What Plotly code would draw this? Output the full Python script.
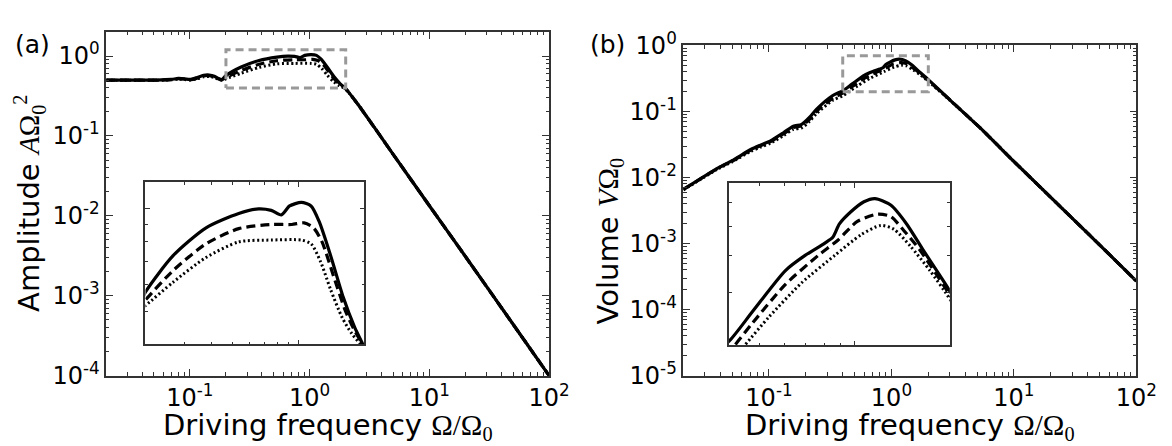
import math
import plotly.graph_objects as go

W, H = 1172, 446

# ---------------- data: panel (a) amplitude ----------------
amp_solid_x = [0.02, 0.03, 0.04, 0.05, 0.06, 0.07, 0.08, 0.09, 0.1, 0.115, 0.13, 0.145, 0.16, 0.175,
               0.185, 0.2, 0.268, 0.378, 0.533, 0.656, 0.75, 0.834, 0.91, 1.03, 1.14, 1.24, 1.40,
               1.60, 1.80, 2.0, 2.5, 3.47, 5.0, 10.0, 20.0, 50.0, 100.0]
amp_solid_y = [0.50, 0.50, 0.50, 0.50, 0.505, 0.51, 0.525, 0.52, 0.51, 0.54, 0.575, 0.58, 0.56, 0.52,
               0.51, 0.57, 0.73, 0.88, 0.97, 1.0, 0.99, 0.96, 1.02, 1.045, 1.02, 0.92, 0.73,
               0.55, 0.45, 0.39, 0.255, 0.128, 0.0585, 0.0134, 0.0031, 0.00044, 0.0001]

amp_dash_x = [0.02, 0.03, 0.04, 0.05, 0.06, 0.07, 0.08, 0.09, 0.1, 0.115, 0.13, 0.145, 0.16, 0.175,
              0.185, 0.2, 0.268, 0.378, 0.533, 0.75, 0.93, 1.06, 1.17, 1.28, 1.45, 1.64, 1.80,
              2.0, 2.5, 3.47, 5.0, 10.0, 20.0, 50.0, 100.0]
amp_dash_y = [0.50, 0.50, 0.50, 0.50, 0.503, 0.508, 0.52, 0.515, 0.505, 0.53, 0.565, 0.57, 0.55, 0.515,
              0.505, 0.54, 0.66, 0.79, 0.875, 0.90, 0.90, 0.91, 0.88, 0.80, 0.63, 0.50, 0.44,
              0.39, 0.255, 0.128, 0.0585, 0.0134, 0.0031, 0.00044, 0.0001]

amp_dot_x = [0.02, 0.03, 0.04, 0.05, 0.06, 0.07, 0.08, 0.09, 0.1, 0.115, 0.13, 0.145, 0.16, 0.175,
             0.185, 0.2, 0.268, 0.378, 0.533, 0.75, 1.03, 1.14, 1.26, 1.40, 1.58, 1.75,
             2.0, 2.5, 3.47, 5.0, 10.0, 20.0, 50.0, 100.0]
amp_dot_y = [0.50, 0.50, 0.50, 0.50, 0.50, 0.505, 0.515, 0.51, 0.50, 0.52, 0.55, 0.555, 0.54, 0.51,
             0.50, 0.52, 0.61, 0.72, 0.80, 0.81, 0.81, 0.79, 0.70, 0.58, 0.48, 0.43,
             0.385, 0.255, 0.128, 0.0585, 0.0134, 0.0031, 0.00044, 0.0001]

# ---------------- data: panel (b) volume ----------------
vol_solid_x = [0.02, 0.0385, 0.05, 0.071, 0.085, 0.103, 0.132, 0.158, 0.185, 0.215, 0.244, 0.332,
               0.4, 0.476, 0.604, 0.697, 0.805, 0.853, 0.895, 0.973, 1.07, 1.16, 1.30, 1.46, 1.64,
               1.94, 3.0, 5.3, 10.0, 20.0, 50.0, 100.0]
vol_solid_y = [0.0066, 0.014, 0.018, 0.0266, 0.031, 0.036, 0.048, 0.060, 0.064, 0.082, 0.108, 0.175,
               0.206, 0.26, 0.356, 0.40, 0.44, 0.46, 0.51, 0.56, 0.605, 0.62, 0.59, 0.51, 0.42,
               0.32, 0.15, 0.0565, 0.0175, 0.0050, 0.00096, 0.00027]

vol_dash_x = [0.02, 0.0385, 0.05, 0.071, 0.085, 0.103, 0.132, 0.158, 0.185, 0.215, 0.244, 0.332,
              0.4, 0.476, 0.604, 0.767, 0.885, 1.02, 1.18, 1.30, 1.43, 1.60, 1.94,
              3.0, 5.3, 10.0, 20.0, 50.0, 100.0]
vol_dash_y = [0.0066, 0.0139, 0.0178, 0.026, 0.0302, 0.035, 0.0462, 0.0572, 0.061, 0.077, 0.1005, 0.16,
              0.19, 0.238, 0.32, 0.40, 0.45, 0.52, 0.55, 0.54, 0.485, 0.42, 0.31,
              0.15, 0.0565, 0.0175, 0.0050, 0.00096, 0.00027]

vol_dot_x = [0.02, 0.0385, 0.05, 0.071, 0.085, 0.103, 0.132, 0.158, 0.185, 0.215, 0.244, 0.332,
             0.4, 0.449, 0.536, 0.68, 0.865, 1.05, 1.21, 1.33, 1.50, 1.73, 1.94,
             3.0, 5.3, 10.0, 20.0, 50.0, 100.0]
vol_dot_y = [0.0065, 0.0136, 0.0173, 0.025, 0.0288, 0.0332, 0.0435, 0.0535, 0.0565, 0.0715, 0.093, 0.148,
             0.173, 0.20, 0.249, 0.324, 0.40, 0.47, 0.504, 0.49, 0.43, 0.356, 0.30,
             0.148, 0.0565, 0.0175, 0.0050, 0.00096, 0.00027]

# axis ranges (data units) and tick labels
main_x_range = [0.02, 100.0]
amp_y_range = [1e-4, 2.0]
vol_y_range = [1e-5, 1.0]
inset_a_x = [0.2, 2.0]
inset_a_y = [0.4, 1.2]
inset_b_x = [0.4, 2.0]
inset_b_y = [0.2, 0.7]

x_major = [0.1, 1, 10, 100]
x_major_text = ["10<sup>-1</sup>", "10<sup>0</sup>", "10<sup>1</sup>", "10<sup>2</sup>"]
amp_major = [1e-4, 1e-3, 1e-2, 1e-1, 1]
amp_major_text = ["10<sup>-4</sup>", "10<sup>-3</sup>", "10<sup>-2</sup>", "10<sup>-1</sup>", "10<sup>0</sup>"]
vol_major = [1e-5, 1e-4, 1e-3, 1e-2, 1e-1, 1]
vol_major_text = ["10<sup>-5</sup>", "10<sup>-4</sup>", "10<sup>-3</sup>", "10<sup>-2</sup>",
                  "10<sup>-1</sup>", "10<sup>0</sup>"]


def minor_vals(lo, hi):
    out = []
    e0 = math.floor(math.log10(lo)) - 1
    e1 = math.ceil(math.log10(hi)) + 1
    for e in range(e0, e1):
        for m in range(2, 10):
            v = m * 10 ** e
            if lo * 0.999 <= v <= hi * 1.001:
                out.append(v)
    return out


def lr(r):
    return [math.log10(r[0]), math.log10(r[1])]


def px_x(p):
    return p / W


def px_y(p):
    return 1 - p / H


FRAME = "#333333"
FONT = "DejaVu Sans"

fig = go.Figure()

styles = [("solid", 3.2), ("9px,5px", 3.2), ("2px,2.6px", 3.0)]


def add_series(xs_list, ys_list, xa, ya):
    for (xs, ys), (dash, w) in zip(zip(xs_list, ys_list), styles):
        fig.add_trace(go.Scatter(x=xs, y=ys, mode="lines", xaxis=xa, yaxis=ya,
                                 line=dict(color="black", width=w, dash=dash,
                                           shape="spline", smoothing=0.7),
                                 showlegend=False, hoverinfo="skip"))


amp_x = [amp_solid_x, amp_dash_x, amp_dot_x]
amp_y = [amp_solid_y, amp_dash_y, amp_dot_y]
vol_x = [vol_solid_x, vol_dash_x, vol_dot_x]
vol_y = [vol_solid_y, vol_dash_y, vol_dot_y]

# main panels
add_series(amp_x, amp_y, "x", "y")
add_series(vol_x, vol_y, "x2", "y2")


def add_box(xr, yr, xa, ya):
    fig.add_trace(go.Scatter(x=[xr[0], xr[1], xr[1], xr[0], xr[0]],
                             y=[yr[0], yr[0], yr[1], yr[1], yr[0]],
                             mode="lines", xaxis=xa, yaxis=ya,
                             line=dict(color="#999999", width=3, dash="8px,5px"),
                             showlegend=False, hoverinfo="skip"))


add_box(inset_a_x, inset_a_y, "x", "y")
add_box(inset_b_x, inset_b_y, "x2", "y2")

# insets
add_series(amp_x, amp_y, "x3", "y3")
add_series(vol_x, vol_y, "x4", "y4")


def main_axis(dom, rng, tv, tt, anchor):
    return dict(type="log", domain=dom, range=lr(rng), anchor=anchor,
                tickmode="array", tickvals=tv, ticktext=tt,
                ticks="inside", ticklen=7, tickwidth=1.2, tickcolor=FRAME,
                minor=dict(tickmode="array", tickvals=minor_vals(*rng), ticks="inside",
                           ticklen=3.5, tickwidth=1, tickcolor=FRAME, showgrid=False),
                showline=True, linecolor=FRAME, linewidth=1.5, mirror="allticks",
                showgrid=False, zeroline=False,
                tickfont=dict(family=FONT, size=24, color="black"))


def inset_axis(dom, rng, anchor):
    majors = [v for v in [0.1, 1, 10] if rng[0] < v < rng[1]]
    return dict(type="log", domain=dom, range=lr(rng), anchor=anchor,
                tickmode="array", tickvals=majors, showticklabels=False,
                ticks="inside", ticklen=5, tickwidth=1, tickcolor=FRAME,
                minor=dict(tickmode="array", tickvals=minor_vals(*rng), ticks="inside",
                           ticklen=3, tickwidth=1, tickcolor=FRAME, showgrid=False),
                showline=True, linecolor=FRAME, linewidth=1.5, mirror="allticks",
                showgrid=False, zeroline=False)


# pixel boxes of the axes
A_L, A_R, A_T, A_B = 100, 551, 6.5, 376.7
B_L, B_R, B_T, B_B = 687.7, 1149, 21, 376.7
IA_L, IA_R, IA_T, IA_B = 140, 363, 168, 343
IB_L, IB_R, IB_T, IB_B = 734, 959, 169, 344

fig.update_layout(
    width=W, height=H, margin=dict(l=0, r=0, t=0, b=0),
    paper_bgcolor="white", plot_bgcolor="white",
    xaxis=main_axis([px_x(A_L), px_x(A_R)], main_x_range, x_major, x_major_text, "y"),
    yaxis=main_axis([px_y(A_B), px_y(A_T)], amp_y_range, amp_major, amp_major_text, "x"),
    xaxis2=main_axis([px_x(B_L), px_x(B_R)], main_x_range, x_major, x_major_text, "y2"),
    yaxis2=main_axis([px_y(B_B), px_y(B_T)], vol_y_range, vol_major, vol_major_text, "x2"),
    xaxis3=inset_axis([px_x(IA_L), px_x(IA_R)], inset_a_x, "y3"),
    yaxis3=inset_axis([px_y(IA_B), px_y(IA_T)], inset_a_y, "x3"),
    xaxis4=inset_axis([px_x(IB_L), px_x(IB_R)], inset_b_x, "y4"),
    yaxis4=inset_axis([px_y(IB_B), px_y(IB_T)], inset_b_y, "x4"),
)

xtitle = ("Driving frequency <span style=\"font-family:Liberation Serif\">Ω/Ω<sub>0</sub></span>")
ytitle_a = ("Amplitude <span style=\"font-family:Liberation Serif\"><i>A</i>Ω<sub>0</sub><sup>2</sup></span>")
ytitle_b = ("Volume <span style=\"font-family:Liberation Serif\"><i>V</i>Ω<sub>0</sub></span>")

ann = [
    dict(text=xtitle, x=px_x(326), y=px_y(431), textangle=0),
    dict(text=xtitle, x=px_x(918), y=px_y(431), textangle=0),
    dict(text=ytitle_a, x=px_x(22), y=px_y(191), textangle=-90),
    dict(text=ytitle_b, x=px_x(612), y=px_y(232), textangle=-90),
]
for a in ann:
    fig.add_annotation(xref="paper", yref="paper", showarrow=False,
                       xanchor="center", yanchor="middle",
                       font=dict(family=FONT, size=29, color="black"), **a)

for lab, xp in [("(a)", 25), ("(b)", 610)]:
    fig.add_annotation(text=lab, xref="paper", yref="paper", x=px_x(xp), y=px_y(20),
                       showarrow=False, xanchor="center", yanchor="middle",
                       font=dict(family=FONT, size=25, color="black"))

fig.write_html("out.html")
